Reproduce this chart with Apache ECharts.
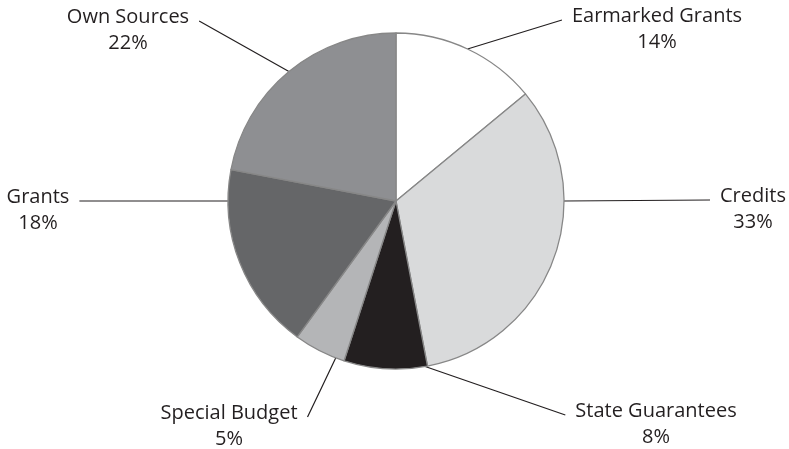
<!DOCTYPE html>
<html>
<head>
<meta charset="utf-8">
<script src="https://cdn.jsdelivr.net/npm/echarts@6/dist/echarts.min.js"></script>
<style>
  html, body { margin: 0; padding: 0; background: #ffffff; }
  #chart { width: 789px; height: 449px; }
</style>
</head>
<body>
<div id="chart"></div>
<script>
// Funding sources, shares in percent (clockwise from 12 o'clock)
const categories = ['Earmarked Grants', 'Credits', 'State Guarantees', 'Special Budget', 'Grants', 'Own Sources'];
const shares = [14, 33, 8, 5, 18, 22];
const sliceColors = ['#ffffff', '#d9dadb', '#231f20', '#b4b5b7', '#656668', '#8e8f92'];

// Pie geometry
const PIE_CENTER = [396, 201];
const PIE_RADIUS = 168;

// Callout layout: label block centre and the angle (deg, clockwise from top)
// where each leader line meets the rim.
const calloutCenters = [[657, 29], [753, 209], [656, 424], [229, 426], [38, 210], [128, 30]];
const leaderAngles = [25.2, 90, 170, 201, 270, 320.4];

const chart = echarts.init(document.getElementById('chart'), null, { renderer: 'canvas' });

function rimPoint(deg) {
  const a = deg * Math.PI / 180;
  return [PIE_CENTER[0] + PIE_RADIUS * Math.sin(a), PIE_CENTER[1] - PIE_RADIUS * Math.cos(a)];
}

chart.setOption({
  animation: false,
  backgroundColor: '#ffffff',
  series: [{
    type: 'pie',
    center: PIE_CENTER,
    radius: PIE_RADIUS,
    startAngle: 90,
    clockwise: true,
    silent: true,
    data: categories.map((name, i) => ({
      name,
      value: shares[i],
      itemStyle: { color: sliceColors[i] }
    })),
    itemStyle: { borderColor: '#878787', borderWidth: 1.3 },
    label: {
      show: true,
      position: 'outside',
      formatter: p => p.name + '\n' + p.value + '%',
      fontFamily: '"Open Sans", sans-serif',
      fontSize: 20,
      lineHeight: 26,
      color: '#231f20',
      align: 'center'
    },
    labelLine: {
      show: true,
      length: 10,
      length2: 0,
      smooth: false,
      lineStyle: { color: '#231f20', width: 1.2 }
    },
    labelLayout: params => {
      const i = params.dataIndex;
      const [cx, cy] = calloutCenters[i];
      const halfW = params.labelRect.width / 2;
      const anchor = rimPoint(leaderAngles[i]);
      const toRight = anchor[0] > cx;
      const end = [toRight ? cx + halfW + 10 : cx - halfW - 10, cy - 9];
      return {
        x: cx,
        y: cy,
        align: 'center',
        verticalAlign: 'middle',
        labelLinePoints: [anchor, [(anchor[0] + end[0]) / 2, (anchor[1] + end[1]) / 2], end]
      };
    }
  }]
});
</script>
</body>
</html>
